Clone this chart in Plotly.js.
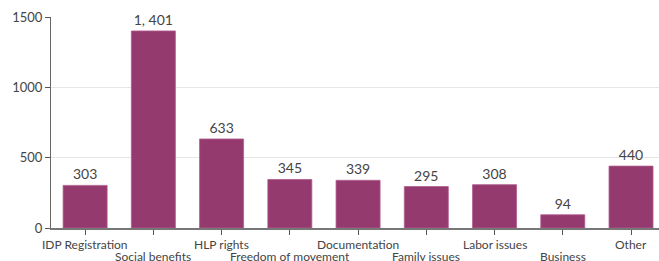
<!DOCTYPE html>
<html>
<head>
<meta charset="utf-8">
<script src="https://cdn.plot.ly/plotly-3.0.1.min.js"></script>
<style>html,body{margin:0;padding:0;background:#fff;}#chart{width:659px;height:261px;}</style>
</head>
<body>
<div id="chart"></div>
<script>
var categories = ["IDP Registration","Social benefits","HLP rights","Freedom of movement","Documentation","Family issues","Labor issues","Business","Other"];
var values = [303, 1401, 633, 345, 339, 295, 308, 94, 440];
var valueLabels = ["303","1, 401","633","345","339","295","308","94","440"];

var idx = categories.map(function(c,i){return i;});

var trace = {
  type: "bar",
  x: idx,
  y: values,
  text: valueLabels,
  textposition: "outside",
  cliponaxis: false,
  textfont: {family: "Lato", size: 14, color: "#444"},
  marker: {color: "#943a6e", line: {color: "#b35d8f", width: 0.8}},
  hoverinfo: "none"
};

var annotations = categories.map(function(c,i){
  return {
    x: i, xref: "x", y: 0, yref: "y",
    text: c, showarrow: false,
    xanchor: "center", yanchor: "top",
    yshift: i % 2 === 1 ? -19 : -7,
    font: {family: "Lato", size: 12, color: "#444"}
  };
});

var layout = {
  width: 659, height: 261,
  margin: {l: 51, r: 0, t: 17, b: 33},
  paper_bgcolor: "#fff", plot_bgcolor: "#fff",
  showlegend: false,
  bargap: 0.355,
  font: {family: "Lato", color: "#444"},
  annotations: annotations,
  xaxis: {
    range: [-0.5, 8.41],
    tickmode: "array", tickvals: idx, ticktext: idx.map(function(){return "";}),
    ticks: "outside", ticklen: 5, tickcolor: "#555", tickwidth: 1,
    showline: true, linecolor: "#777", linewidth: 1.5,
    showgrid: false, zeroline: false
  },
  yaxis: {
    range: [0, 1500],
    tickvals: [0, 500, 1000, 1500],
    ticks: "outside", ticklen: 5, tickcolor: "#555",
    showline: true, linecolor: "#666", linewidth: 1,
    showgrid: true, gridcolor: "#e6e6e6",
    zeroline: false,
    tickfont: {family: "Lato", size: 13, color: "#444"}
  }
};

Plotly.newPlot("chart", [trace], layout, {displayModeBar: false, staticPlot: true});
</script>
</body>
</html>
